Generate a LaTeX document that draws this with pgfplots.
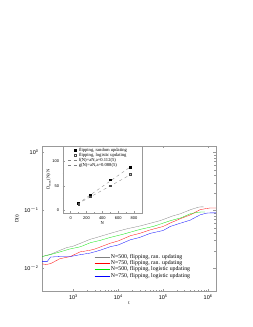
\documentclass[border=0pt]{standalone}
\usepackage{pgfplots}
\pgfplotsset{compat=1.18}
\usepackage{fontspec}
\setmainfont{Liberation Serif}
\setsansfont{Liberation Sans}
\definecolor{framegray}{gray}{0.6}
\pgfplotsset{
  dashleg/.style={legend image code/.code={\draw[##1] (-7pt,0pt) -- (3pt,0pt);}},
  markleg/.style={legend image code/.code={\draw[##1] plot coordinates {(0pt,0pt)};}},
}
\begin{document}
\begin{tikzpicture}[x=1pt,y=1pt]
\path[use as bounding box] (0,0) rectangle (253,327);
\begin{axis}[
  at={(42pt,36pt)}, anchor=south west,
  width=174pt, height=145pt, scale only axis,
  xmode=log, ymode=log,
  xmin=200, xmax=1.5e6, ymin=0.004, ymax=1.3,
  xtick={1e3,1e4,1e5,1e6}, ytick={1e-2,1e-1,1},
  xticklabels={10\textsuperscript{3},10\textsuperscript{4},10\textsuperscript{5},10\textsuperscript{6}},
  yticklabels={10\textsuperscript{$-$2},10\textsuperscript{$-$1},10\textsuperscript{0}},
  tick label style={font=\sffamily\fontsize{5.5}{6}\selectfont},
  axis line style={framegray, line width=0.4pt},
  every tick/.style={framegray, line width=0.3pt},
  major tick length=2.5pt, minor tick length=1.5pt,
  tick align=inside,
  xlabel={t}, ylabel={D(t)},
  label style={font=\fontsize{5}{6}\selectfont},
  xlabel style={yshift=4pt},
  ylabel style={yshift=-2pt},
  legend style={at={(0.30,0.265)}, anchor=north west, draw=none, fill=none,
    font=\fontsize{5.8}{6}\selectfont, row sep=-1.6pt, inner sep=0pt,
    nodes={inner sep=1.2pt}},
  legend cell align=left,
  legend image code/.code={\draw[#1] (0pt,0pt) -- (15pt,0pt);},
]
% gray: N=500 random
\addplot[gray, line width=0.3pt] coordinates {
(200,0.0158) (316,0.0174) (513,0.0204) (700,0.0225) (1000,0.024) (1445,0.0269) (2400,0.0316) (3000,0.0331) (6600,0.0398) (10000,0.0437) (15800,0.0479) (31000,0.0537) (85000,0.0661) (160000,0.0794) (240000,0.0871) (400000,0.102) (600000,0.113) (700000,0.1148) (800000,0.1145)};
\addlegendentry{N=500, flipping, ran. updating}
% red: N=750 random
\addplot[red, line width=0.3pt] coordinates {
(200,0.0118) (250,0.0115) (316,0.0120) (500,0.0145) (850,0.0158) (1400,0.0190) (2400,0.0204) (3000,0.0213) (6600,0.0269) (10000,0.0295) (18600,0.0363) (30000,0.0398) (51000,0.0457) (100000,0.0525) (144000,0.0603) (250000,0.0724) (400000,0.0832) (660000,0.1023) (900000,0.1072) (1100000,0.1096) (1550000,0.1096)};
\addlegendentry{N=750, flipping, ran. updating}
% green: N=500 logistic
\addplot[green!90!black, line width=0.3pt] coordinates {
(200,0.0158) (300,0.0170) (513,0.0191) (800,0.0212) (1445,0.0234) (2400,0.0275) (4000,0.0302) (6600,0.0339) (12000,0.0380) (31000,0.0468) (60000,0.0525) (144000,0.0661) (250000,0.0741) (400000,0.0871) (600000,0.0925) (700000,0.0933) (850000,0.0933)};
\addlegendentry{N=500, flipping, logistic updating}
% blue: N=750 logistic
\addplot[blue, line width=0.3pt] coordinates {
(200,0.0129) (260,0.0129) (310,0.0155) (500,0.0158) (850,0.0158) (1400,0.0170) (2400,0.0182) (4000,0.0204) (6600,0.0234) (10000,0.0251) (18600,0.0309) (30000,0.0339) (51000,0.0398) (100000,0.0447) (144000,0.0525) (250000,0.0603) (400000,0.0676) (660000,0.0832) (900000,0.0891) (1100000,0.0902) (1550000,0.0902)};
\addlegendentry{N=750, flipping, logistic updating}
\end{axis}
\begin{axis}[
  at={(62.7pt,114pt)}, anchor=south west,
  width=79.3pt, height=67pt, scale only axis,
  xmin=-100, xmax=900, ymin=-5, ymax=130,
  xtick={0,200,400,600,800}, ytick={0,50,100},
  minor x tick num=1, minor y tick num=1,
  tick label style={font=\sffamily\fontsize{4}{5}\selectfont},
  /pgf/number format/assume math mode=true,
  axis line style={framegray, line width=0.4pt},
  every tick/.style={framegray, line width=0.3pt},
  major tick length=2pt, minor tick length=1.2pt,
  tick align=inside,
  xtick pos=bottom, ytick pos=left,
  axis background/.style={fill=white},
  xlabel={N}, ylabel={D$_{\max}$(N)/N},
  label style={font=\fontsize{4.5}{5}\selectfont},
  xlabel style={yshift=5pt},
  ylabel style={yshift=-5pt},
  legend style={at={(0.06,0.985)}, anchor=north west, draw=none, fill=none,
    font=\fontsize{4.6}{5}\selectfont, row sep=-1.4pt, inner sep=0pt,
    nodes={inner sep=0.8pt}},
  legend cell align=left,
]
\addplot[only marks, mark=square*, mark size=0.9pt, black, markleg] coordinates {
(100,15) (250,31) (500,62) (750,87)};
\addlegendentry{flipping, random updating}
\addplot[only marks, mark=square, mark size=0.9pt, black!70, mark options={line width=0.3pt}, markleg] coordinates {
(100,13) (250,28) (500,50) (750,73)};
\addlegendentry{flipping, logistic updating}
\addplot[dashed, gray, line width=0.3pt, dashleg] coordinates {(85,13) (770,89.7)};
\addlegendentry{f(N)=aN,a=0.112(5)}
\addplot[dashed, gray, line width=0.3pt, dashleg] coordinates {(85,13) (770,73.5)};
\addlegendentry{g(N)=aN,a=0.088(5)}
\end{axis}
\end{tikzpicture}
\end{document}
